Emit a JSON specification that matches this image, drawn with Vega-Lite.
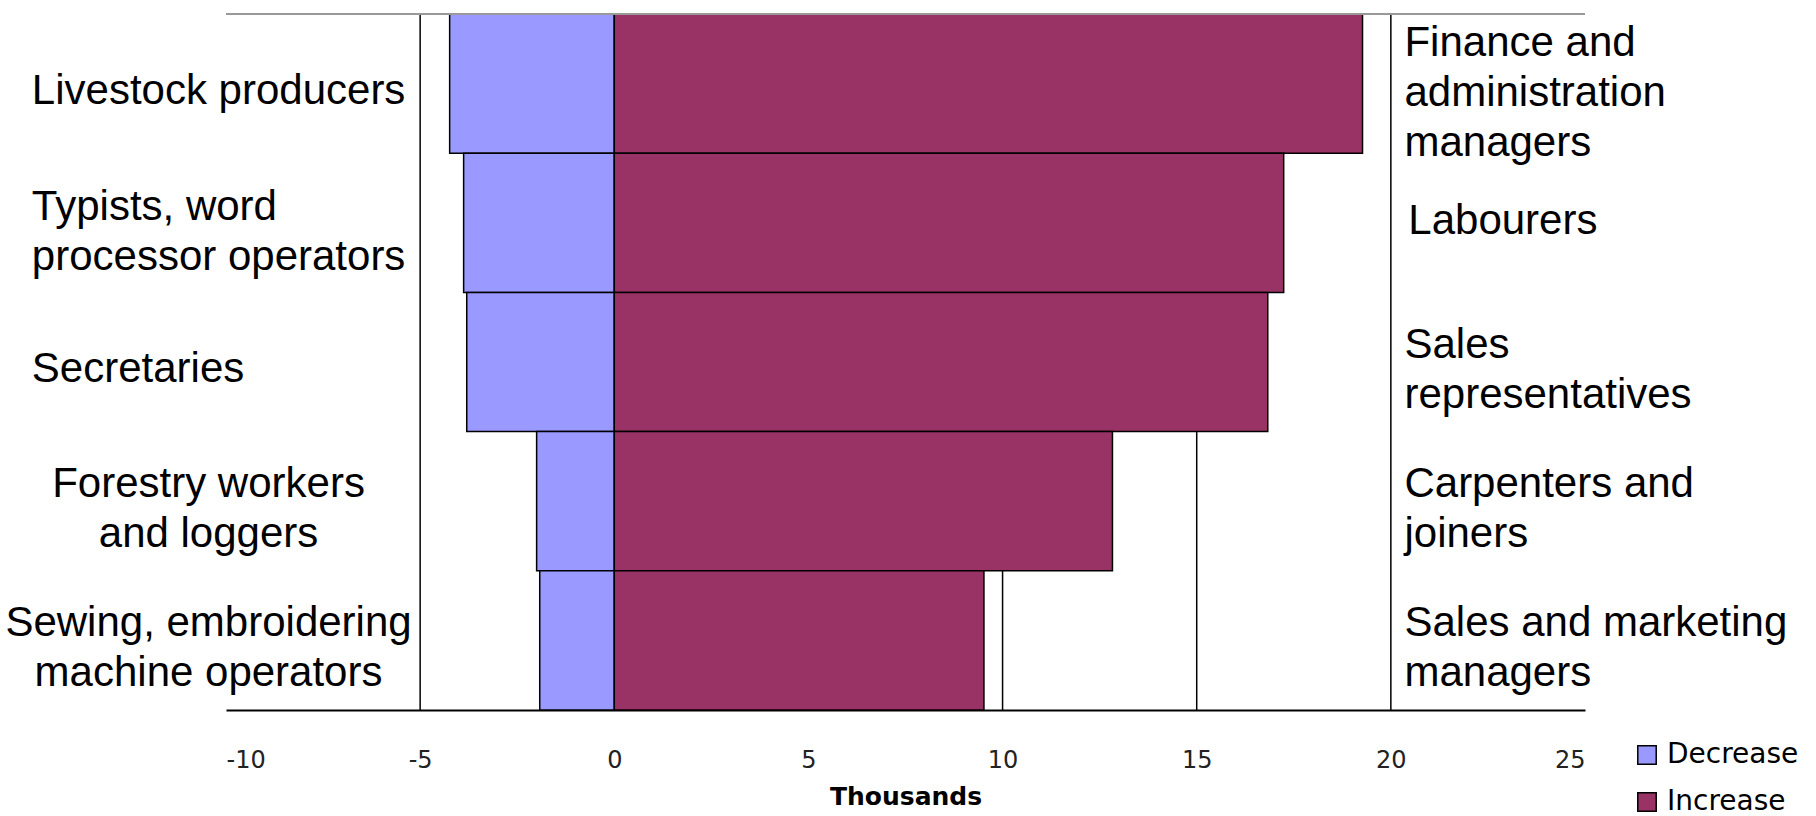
{
  "$schema": "https://vega.github.io/schema/vega-lite/v6.json",
  "width": 1359,
  "height": 696,
  "autosize": {"type": "none"},
  "padding": {"left": 226, "top": 14, "right": 231, "bottom": 106},
  "background": "white",
  "config": {
    "view": {"stroke": null},
    "font": "Liberation Sans",
    "axisX": {
      "grid": false, "ticks": false,
      "domainColor": "black", "domainWidth": 2,
      "labelFont": "DejaVu Sans", "labelFontSize": 24, "labelColor": "#222",
      "labelPadding": 38,
      "labelExpr": "'' + datum.value",
      "titleFont": "DejaVu Sans", "titleFontSize": 25,
      "titleFontWeight": "bold", "titleColor": "black", "titlePadding": 12
    },
    "text": {"fontSize": 42, "lineHeight": 50, "baseline": "middle", "color": "black"}
  },
  "datasets": {
    "jobs": [
      {"row": 1, "decreaseJob": ["Livestock producers"], "increaseJob": ["Finance and", "administration", "managers"], "Decrease": -4.24, "Increase": 19.27},
      {"row": 2, "decreaseJob": ["Typists, word", "processor operators"], "increaseJob": ["Labourers"], "Decrease": -3.88, "Increase": 17.24},
      {"row": 3, "decreaseJob": ["Secretaries"], "increaseJob": ["Sales", "representatives"], "Decrease": -3.8, "Increase": 16.83},
      {"row": 4, "decreaseJob": ["Forestry workers", "and loggers"], "increaseJob": ["Carpenters and", "joiners"], "Decrease": -2.0, "Increase": 12.83},
      {"row": 5, "decreaseJob": ["Sewing, embroidering", "machine operators"], "increaseJob": ["Sales and marketing", "managers"], "Decrease": -1.92, "Increase": 9.52}
    ],
    "grid": [{"value": -5}, {"value": 0}, {"value": 5}, {"value": 10}, {"value": 15}, {"value": 20}]
  },
  "layer": [
    {
      "data": {"name": "grid"},
      "mark": {"type": "rule", "color": "black", "strokeWidth": 1.5},
      "encoding": {
        "x": {"field": "value", "type": "quantitative", "scale": {"domain": [-10, 25], "nice": false, "zero": false}, "axis": {"values": [-10, -5, 0, 5, 10, 15, 20, 25], "title": "Thousands"}}
      }
    },
    {
      "data": {"name": "jobs"},
      "transform": [{"fold": ["Decrease", "Increase"], "as": ["series", "value"]}],
      "mark": {"type": "bar", "stroke": "black", "strokeWidth": 1.5},
      "encoding": {
        "y": {"field": "row", "type": "ordinal", "axis": null, "scale": {"paddingInner": 0, "paddingOuter": 0}},
        "x": {
          "field": "value", "type": "quantitative", "stack": null,
          "scale": {"domain": [-10, 25], "nice": false, "zero": false},
          "axis": {"values": [-10, -5, 0, 5, 10, 15, 20, 25], "title": "Thousands"}
        },
        "color": {
          "field": "series", "type": "nominal",
          "scale": {"domain": ["Decrease", "Increase"], "range": ["#9999FF", "#993366"]},
          "legend": {
            "orient": "none", "legendX": 1407, "legendY": 727, "title": null,
            "symbolType": "square", "symbolSize": 340, "symbolStrokeColor": "black",
            "symbolStrokeWidth": 1.5, "labelFont": "DejaVu Sans", "labelFontSize": 28,
            "labelColor": "black", "labelOffset": 6, "rowPadding": 19, "padding": 0
          }
        }
      }
    },
    {
      "data": {"name": "jobs"},
      "transform": [{"filter": "datum.row == 1"}],
      "mark": {"type": "rule", "color": "#999999", "strokeWidth": 2},
      "encoding": {
        "x": {"datum": -10, "type": "quantitative", "scale": {"domain": [-10, 25], "nice": false, "zero": false}, "axis": {"values": [-10, -5, 0, 5, 10, 15, 20, 25], "title": "Thousands"}},
        "x2": {"datum": 25},
        "y": {"field": "row", "type": "ordinal", "axis": null, "bandPosition": 0}
      }
    },
    {
      "data": {"name": "jobs"},
      "transform": [{"filter": "datum.row == 1 || datum.row == 3"}],
      "mark": {"type": "text", "align": "left", "dy": 7},
      "encoding": {
        "y": {"field": "row", "type": "ordinal", "axis": null},
        "x": {"datum": -15.0, "type": "quantitative", "scale": {"domain": [-10, 25], "nice": false, "zero": false}, "axis": {"values": [-10, -5, 0, 5, 10, 15, 20, 25], "title": "Thousands"}},
        "text": {"field": "decreaseJob"}
      }
    },
    {
      "data": {"name": "jobs"},
      "transform": [{"filter": "datum.row == 2"}],
      "mark": {"type": "text", "align": "left", "dy": -16},
      "encoding": {
        "y": {"field": "row", "type": "ordinal", "axis": null},
        "x": {"datum": -15.0, "type": "quantitative", "scale": {"domain": [-10, 25], "nice": false, "zero": false}, "axis": {"values": [-10, -5, 0, 5, 10, 15, 20, 25], "title": "Thousands"}},
        "text": {"field": "decreaseJob"}
      }
    },
    {
      "data": {"name": "jobs"},
      "transform": [{"filter": "datum.row > 3"}],
      "mark": {"type": "text", "align": "center", "dy": -17},
      "encoding": {
        "y": {"field": "row", "type": "ordinal", "axis": null},
        "x": {"datum": -10.45, "type": "quantitative", "scale": {"domain": [-10, 25], "nice": false, "zero": false}, "axis": {"values": [-10, -5, 0, 5, 10, 15, 20, 25], "title": "Thousands"}},
        "text": {"field": "decreaseJob"}
      }
    },
    {
      "data": {"name": "jobs"},
      "transform": [{"filter": "length(datum.increaseJob) == 1"}],
      "mark": {"type": "text", "align": "left", "dy": -2},
      "encoding": {
        "y": {"field": "row", "type": "ordinal", "axis": null},
        "x": {"datum": 20.45, "type": "quantitative", "scale": {"domain": [-10, 25], "nice": false, "zero": false}, "axis": {"values": [-10, -5, 0, 5, 10, 15, 20, 25], "title": "Thousands"}},
        "text": {"field": "increaseJob"}
      }
    },
    {
      "data": {"name": "jobs"},
      "transform": [{"filter": "length(datum.increaseJob) == 2"}],
      "mark": {"type": "text", "align": "left", "dy": -17},
      "encoding": {
        "y": {"field": "row", "type": "ordinal", "axis": null},
        "x": {"datum": 20.35, "type": "quantitative", "scale": {"domain": [-10, 25], "nice": false, "zero": false}, "axis": {"values": [-10, -5, 0, 5, 10, 15, 20, 25], "title": "Thousands"}},
        "text": {"field": "increaseJob"}
      }
    },
    {
      "data": {"name": "jobs"},
      "transform": [{"filter": "length(datum.increaseJob) == 3"}],
      "mark": {"type": "text", "align": "left", "dy": -41},
      "encoding": {
        "y": {"field": "row", "type": "ordinal", "axis": null},
        "x": {"datum": 20.35, "type": "quantitative", "scale": {"domain": [-10, 25], "nice": false, "zero": false}, "axis": {"values": [-10, -5, 0, 5, 10, 15, 20, 25], "title": "Thousands"}},
        "text": {"field": "increaseJob"}
      }
    }
  ]
}
